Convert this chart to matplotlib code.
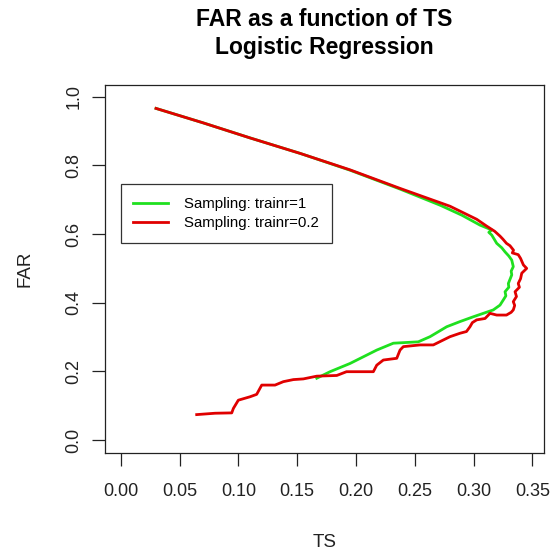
"""

Plot FAR against TS for the logistic regression model, for two sampling settings.

"""

import matplotlib
matplotlib.use('Agg')
from matplotlib import pyplot as plt

# trainr = 1
ts_full = [0.030, 0.070, 0.110, 0.1525, 0.195, 0.2375, 0.2716, 0.2900, 0.3055,
           0.3155, 0.3130, 0.3155, 0.3197, 0.3240, 0.3268, 0.3300, 0.3325,
           0.3338, 0.3320, 0.3325, 0.3310, 0.3296, 0.3300, 0.3268, 0.3275,
           0.3253, 0.3225, 0.3168, 0.3083, 0.2998, 0.2885, 0.2772, 0.2630,
           0.2530, 0.2318, 0.2177, 0.1950, 0.1780, 0.1667]
far_full = [0.966, 0.924, 0.880, 0.835, 0.786, 0.731, 0.684, 0.655, 0.626,
            0.612, 0.605, 0.597, 0.573, 0.560, 0.548, 0.536, 0.524,
            0.505, 0.492, 0.481, 0.468, 0.456, 0.445, 0.432, 0.420,
            0.408, 0.393, 0.379, 0.369, 0.359, 0.345, 0.330, 0.301,
            0.286, 0.282, 0.262, 0.223, 0.199, 0.180]

# trainr = 0.2
ts_samp = [0.030, 0.070, 0.110, 0.1525, 0.195, 0.2375, 0.280, 0.3027, 0.3112,
           0.3180, 0.3225, 0.3250, 0.3280, 0.3310, 0.3340, 0.3330, 0.3380,
           0.3400, 0.3424, 0.3452, 0.3410, 0.3400, 0.3380, 0.3390, 0.3353,
           0.3365, 0.3338, 0.3350, 0.3338, 0.3320, 0.3280, 0.3197, 0.3140,
           0.3098, 0.3027, 0.2990, 0.2970, 0.2940, 0.2885, 0.2800, 0.2658,
           0.2545, 0.2403, 0.2375, 0.2347, 0.2233, 0.2177, 0.2148, 0.2063,
           0.1920, 0.1837, 0.1667, 0.1553, 0.1468, 0.1383, 0.1312, 0.1199,
           0.1156, 0.1100, 0.1000, 0.0958, 0.0944, 0.0802, 0.0646]
far_samp = [0.966, 0.924, 0.880, 0.835, 0.787, 0.733, 0.681, 0.643, 0.623,
            0.608, 0.594, 0.585, 0.573, 0.566, 0.553, 0.545, 0.540,
            0.529, 0.510, 0.500, 0.486, 0.470, 0.456, 0.445, 0.432,
            0.418, 0.403, 0.392, 0.379, 0.372, 0.364, 0.364, 0.369,
            0.354, 0.350, 0.342, 0.330, 0.316, 0.311, 0.301, 0.277,
            0.277, 0.272, 0.262, 0.238, 0.233, 0.218, 0.199, 0.199,
            0.199, 0.188, 0.186, 0.178, 0.176, 0.170, 0.160, 0.160,
            0.133, 0.126, 0.116, 0.092, 0.079, 0.078, 0.074]

series_labels = ["Sampling: trainr=1", "Sampling: trainr=0.2"]
x_ticks = [0.00, 0.05, 0.10, 0.15, 0.20, 0.25, 0.30, 0.35]
y_ticks = [0.0, 0.2, 0.4, 0.6, 0.8, 1.0]


def main():
	
	"""
	
	Draw both curves in an R-like base graphics style and save to out.png
	
	"""
	
	plt.rcParams['font.family'] = ['Liberation Sans', 'DejaVu Sans']
	
	fig = plt.figure(figsize=(5.5, 5.53), dpi=100)
	ax = fig.add_axes([0.1904, 0.1803, 0.7993, 0.6665])
	
	ax.plot(ts_full, far_full, color='#1fe01f', lw=2.0, label=series_labels[0])
	ax.plot(ts_samp, far_samp, color='#e00000', lw=2.0, label=series_labels[1])
	
	ax.set_xlim(-0.0136, 0.3602)
	ax.set_ylim(-0.0387, 1.035)
	ax.set_xticks(x_ticks)
	ax.set_xticklabels(["%.2f" % v for v in x_ticks])
	ax.set_yticks(y_ticks)
	ax.set_yticklabels(["%.1f" % v for v in y_ticks], rotation=90, va='center')
	
	ax.tick_params(axis='x', length=9.1, width=0.9, pad=12, labelsize=13, colors='#222222')
	ax.tick_params(axis='y', length=9.1, width=0.9, pad=7, labelsize=13, colors='#222222')
	for s in ax.spines.values():
		s.set_linewidth(0.9)
		s.set_color('#222222')
	
	ax.set_xlabel("TS", fontsize=13.5, va='center', color='#222222')
	ax.xaxis.set_label_coords(0.5, -0.242)
	ax.set_ylabel("FAR", fontsize=13.5, va='center', color='#222222')
	ax.yaxis.set_label_coords(-0.1813, 0.5)
	
	ax.set_title("FAR as a function of TS\nLogistic Regression", fontsize=16.5,
	             fontweight='bold', y=1.116, va='center', linespacing=1.25)
	
	leg = ax.legend(loc='upper left', bbox_to_anchor=(0.0364, 0.7306),
	                borderaxespad=0, fancybox=False, framealpha=1,
	                edgecolor='#333333', fontsize=10.8, handlelength=2.33,
	                handletextpad=1.07, borderpad=0.85, labelspacing=0.35)
	leg.get_frame().set_linewidth(0.9)
	
	fig.savefig("out.png", dpi=100)
	

if __name__ == '__main__':
	main()
